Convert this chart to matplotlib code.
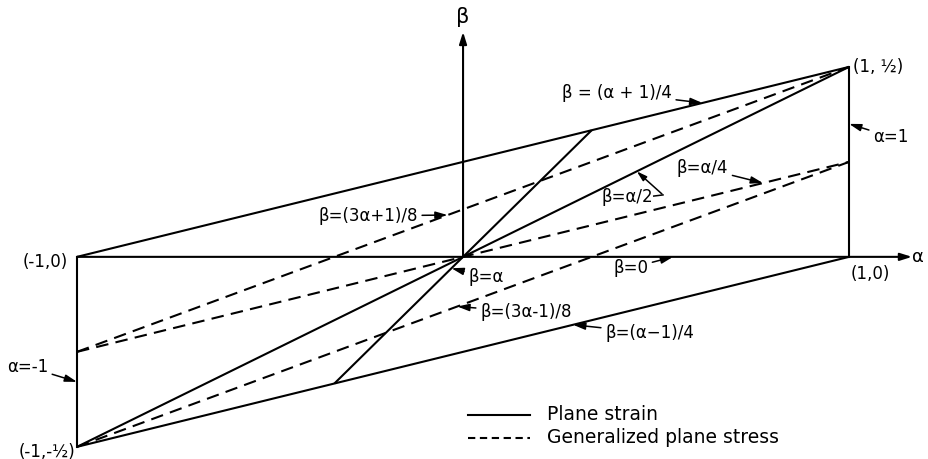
import numpy as np
import matplotlib.pyplot as plt

# boundary corners of the admissible region in the (alpha, beta) plane
corner_alpha = [-1, 1, 1, -1]
corner_beta = [0, 0, 0.5, -0.5]
corner_labels = ["(-1,0)", "(1,0)", "(1, ½)", "(-1,-½)"]

# solid lines (plane strain): label, slope, intercept, alpha range
solid_labels = ["β = (α + 1)/4", "β=(α−1)/4", "β=α/2", "β=α"]
solid_slope = [0.25, 0.25, 0.5, 1.0]
solid_icept = [0.25, -0.25, 0.0, 0.0]
solid_from = [-1, -1, -1, -1 / 3]
solid_to = [1, 1, 1, 1 / 3]

# dashed lines (generalized plane stress)
dashed_labels = ["β=(3α+1)/8", "β=(3α-1)/8", "β=α/4"]
dashed_slope = [0.375, 0.375, 0.25]
dashed_icept = [0.125, -0.125, 0.0]
dashed_from = [-1, -1, -1]
dashed_to = [1, 1, 1]

fig = plt.figure(figsize=(9.29, 4.59), dpi=100)
ax = fig.add_axes([0, 0, 1, 1])
ax.set_xlim(-1.1995, 1.207)
ax.set_ylim(-0.532, 0.676)
ax.axis("off")

LW = 1.5
FS = 12

# vertical sides alpha = -1 and alpha = 1
ax.plot([corner_alpha[3], corner_alpha[0]], [corner_beta[3], corner_beta[0]], color="black", lw=LW)
ax.plot([corner_alpha[1], corner_alpha[2]], [corner_beta[1], corner_beta[2]], color="black", lw=LW)

for m, c, a0, a1 in zip(solid_slope, solid_icept, solid_from, solid_to):
    a = np.array([a0, a1])
    ax.plot(a, m * a + c, color="black", lw=LW, solid_capstyle="butt")

for m, c, a0, a1 in zip(dashed_slope, dashed_icept, dashed_from, dashed_to):
    a = np.array([a0, a1])
    ax.plot(a, m * a + c, color="black", lw=LW, linestyle=(0, (6, 3.5)))

# coordinate axes with arrowheads
axis_kw = dict(arrowstyle="-|>,head_length=0.7,head_width=0.22", color="black", lw=LW, shrinkA=0, shrinkB=0)
ax.annotate("", xy=(1.163, 0), xytext=(-1, 0), arrowprops=axis_kw)
ax.annotate("", xy=(0, 0.592), xytext=(0, 0), arrowprops=axis_kw)
ax.text(1.179, 0, "α", fontsize=FS + 1, ha="center", va="center")
ax.text(0, 0.63, "β", fontsize=FS + 3, ha="center", va="center")

# corner labels
ax.text(-1.023, -0.013, corner_labels[0], fontsize=FS, ha="right", va="center")
ax.text(1.003, -0.045, corner_labels[1], fontsize=FS, ha="left", va="center")
ax.text(1.010, 0.5, corner_labels[2], fontsize=FS, ha="left", va="center")
ax.text(-1.005, -0.513, corner_labels[3], fontsize=FS, ha="right", va="center")

lead = dict(arrowstyle="-|>,head_length=0.6,head_width=0.18", color="black", lw=1.1, shrinkA=1, shrinkB=0)


def line_at(a, m, c):
    return (a, m * a + c)


# leaders for the solid lines
ax.annotate(solid_labels[0], xy=line_at(0.62, solid_slope[0], solid_icept[0]), xytext=(0.541, 0.432),
            fontsize=FS, ha="right", va="center", arrowprops=lead)
ax.annotate(solid_labels[1], xy=line_at(0.285, solid_slope[1], solid_icept[1]), xytext=(0.368, -0.2),
            fontsize=FS, ha="left", va="center", arrowprops=lead)
ax.text(0.492, 0.158, solid_labels[2], fontsize=FS, ha="right", va="center")
ax.plot([0.494, 0.518], [0.160, 0.163], color="black", lw=1.1)
ax.annotate("", xy=line_at(0.45, solid_slope[2], solid_icept[2]), xytext=(0.518, 0.163), arrowprops=lead)
ax.annotate(solid_labels[3], xy=line_at(-0.03, solid_slope[3], solid_icept[3]), xytext=(0.013, -0.053),
            fontsize=FS, ha="left", va="center", arrowprops=lead)

# leaders for the dashed lines
ax.annotate(dashed_labels[0], xy=line_at(-0.04, dashed_slope[0], dashed_icept[0]), xytext=(-0.117, 0.108),
            fontsize=FS, ha="right", va="center", arrowprops=lead)
ax.annotate(dashed_labels[1], xy=line_at(-0.015, dashed_slope[1], dashed_icept[1]), xytext=(0.044, -0.145),
            fontsize=FS, ha="left", va="center", arrowprops=lead)
ax.annotate(dashed_labels[2], xy=line_at(0.777, dashed_slope[2], dashed_icept[2]), xytext=(0.687, 0.234),
            fontsize=FS, ha="right", va="center", arrowprops=lead)

# leaders for the axis and the vertical sides
ax.annotate("β=0", xy=(0.544, 0), xytext=(0.389, -0.029), fontsize=FS, ha="left", va="center", arrowprops=lead)
ax.annotate("α=1", xy=(1, 0.35), xytext=(1.062, 0.316), fontsize=FS, ha="left", va="center", arrowprops=lead)
ax.annotate("α=-1", xy=(-1, -0.329), xytext=(-1.075, -0.289), fontsize=FS, ha="right", va="center", arrowprops=lead)

# key
ax.plot([0.013, 0.174], [-0.416, -0.416], color="black", lw=LW)
ax.plot([0.013, 0.174], [-0.476, -0.476], color="black", lw=LW, linestyle=(0, (3.5, 2.2)))
ax.text(0.218, -0.416, "Plane strain", fontsize=FS + 1.5, ha="left", va="center")
ax.text(0.218, -0.476, "Generalized plane stress", fontsize=FS + 1.5, ha="left", va="center")

fig.savefig("out.png", dpi=100, facecolor="white")
